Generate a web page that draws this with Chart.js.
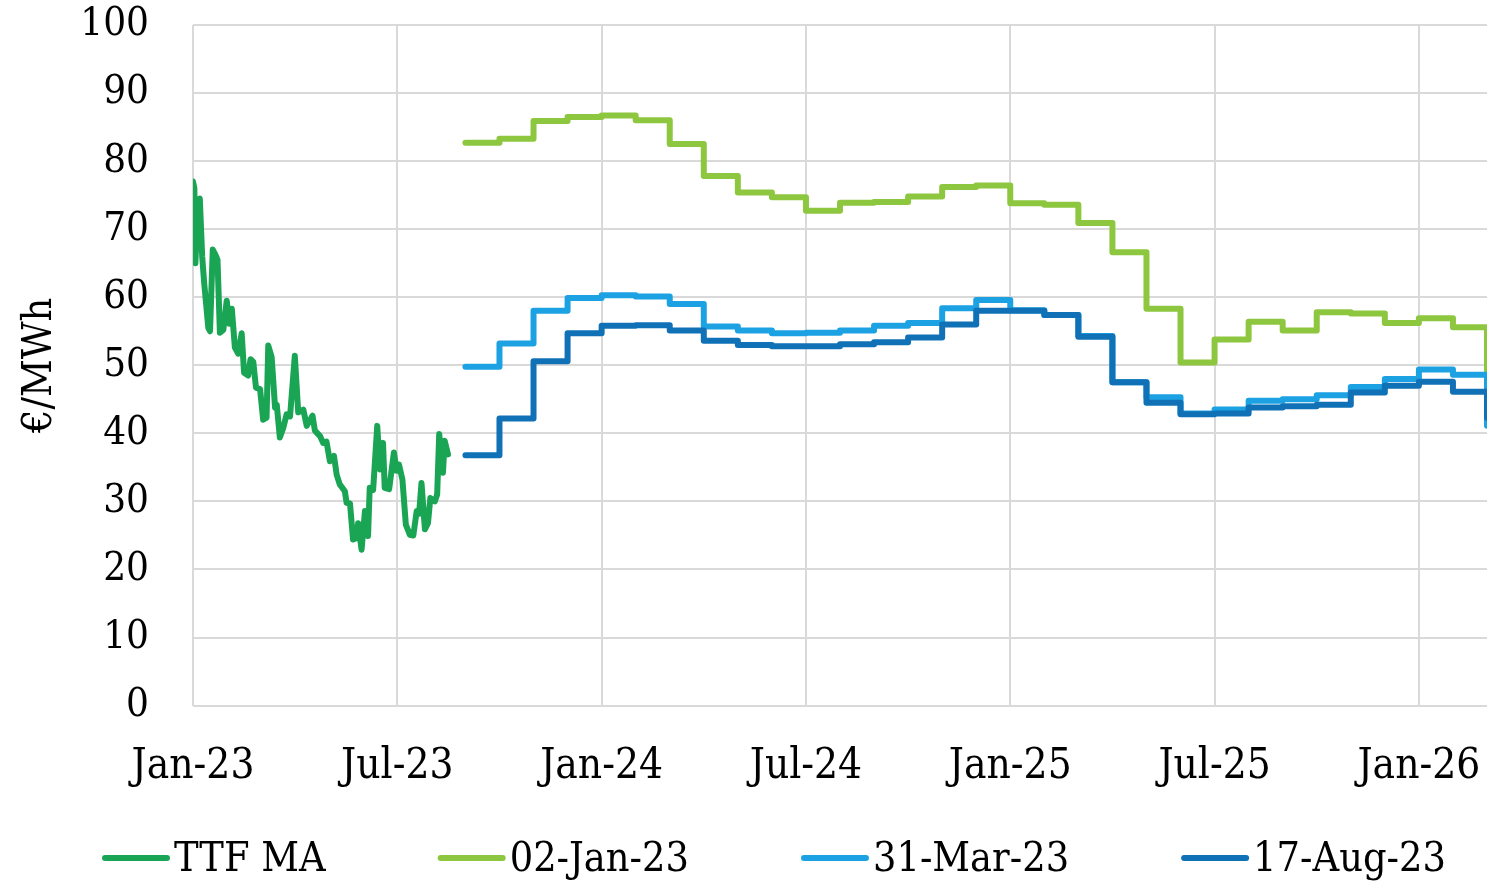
<!DOCTYPE html>
<html>
<head>
<meta charset="utf-8">
<script src="https://cdn.jsdelivr.net/npm/chart.js@4.4.0/dist/chart.umd.min.js"></script>
<style>
html, body { margin: 0; padding: 0; background: #fff; }
#wrap { width: 1508px; height: 883px; }
</style>
</head>
<body>
<div id="wrap"><canvas id="priceChart"></canvas></div>
<script>
// x is months since Jan-23
var xTicks = [0, 6, 12, 18, 24, 30, 36];
var xTickLabels = ["Jan-23", "Jul-23", "Jan-24", "Jul-24", "Jan-25", "Jul-25", "Jan-26"];

var ttfMonths = [0.00, 0.04, 0.07, 0.13, 0.20, 0.27, 0.33, 0.45, 0.50, 0.58, 0.68, 0.72, 0.79, 0.89, 0.99,
    1.07, 1.14, 1.23, 1.33, 1.43, 1.50, 1.62, 1.69, 1.77, 1.85, 1.97, 2.06, 2.16, 2.21, 2.31, 2.41, 2.46,
    2.55, 2.65, 2.75, 2.85, 2.99, 3.09, 3.24, 3.34, 3.51, 3.58, 3.73, 3.82, 3.92, 4.02, 4.14, 4.22, 4.31,
    4.46, 4.51, 4.61, 4.70, 4.80, 4.85, 4.95, 5.05, 5.14, 5.19, 5.29, 5.41, 5.49, 5.58, 5.63, 5.76, 5.90,
    5.98, 6.05, 6.15, 6.25, 6.37, 6.47, 6.57, 6.64, 6.71, 6.81, 6.90, 6.97, 7.10, 7.17, 7.23, 7.34, 7.39, 7.49];
var ttfValues = [77.0, 76.0, 65.0, 72.0, 74.5, 66.0, 62.0, 55.5, 55.0, 67.0, 66.0, 65.5, 54.8, 55.2, 59.5,
    56.1, 58.3, 52.6, 51.7, 54.7, 48.9, 48.5, 50.9, 50.5, 46.7, 46.5, 42.0, 42.3, 52.9, 51.2, 43.8, 44.2,
    39.4, 40.8, 42.8, 42.5, 51.4, 43.1, 43.5, 41.1, 42.6, 40.4, 39.6, 38.6, 38.8, 35.9, 36.7, 33.9, 32.5,
    31.5, 29.8, 29.7, 24.4, 24.6, 26.8, 22.9, 28.6, 24.9, 32.0, 31.7, 41.1, 34.7, 38.6, 32.0, 31.8, 37.2,
    34.5, 35.4, 33.2, 26.6, 25.1, 25.0, 28.6, 28.2, 32.7, 25.9, 26.8, 30.5, 30.0, 31.0, 39.9, 34.2, 38.9, 36.9];

// monthly contracts Sep-23 .. Feb-26, last entry is the end of the curve (Mar-26)
var curveMonths = [8, 9, 10, 11, 12, 13, 14, 15, 16, 17, 18, 19, 20, 21, 22, 23, 24, 25, 26, 27,
    28, 29, 30, 31, 32, 33, 34, 35, 36, 37, 38];
var curveJan23 = [82.7, 83.3, 85.9, 86.5, 86.7, 86.0, 82.5, 77.8, 75.4, 74.7, 72.7, 73.9, 74.0, 74.8, 76.2,
    76.4, 73.8, 73.6, 70.9, 66.6, 58.3, 50.4, 53.8, 56.4, 55.1, 57.8, 57.6, 56.2, 56.9, 55.6, 48.5];
var curveMar23 = [49.8, 53.2, 58.0, 59.9, 60.3, 60.1, 59.0, 55.7, 55.1, 54.7, 54.8, 55.1, 55.8, 56.2, 58.4,
    59.6, 58.1, 57.4, 54.3, 47.5, 45.3, 42.9, 43.5, 44.8, 45.0, 45.6, 46.8, 48.0, 49.4, 48.6, 41.1];
var curveAug23 = [36.8, 42.2, 50.6, 54.7, 55.8, 55.9, 55.1, 53.6, 53.0, 52.8, 52.8, 53.1, 53.4, 54.1, 56.0,
    58.0, 58.0, 57.4, 54.2, 47.5, 44.5, 42.8, 42.9, 43.8, 44.0, 44.2, 46.0, 47.0, 47.6, 46.1, 42.3];

function toPoints(xs, ys) {
    return xs.map(function (x, i) { return {x: x, y: ys[i]}; });
}

var serif = '"DejaVu Serif Condensed", "DejaVu Serif", "Liberation Serif", serif';

// legend drawn by hand so the spacing matches the original
var bottomLegend = {
    id: 'bottomLegend',
    afterDraw: function (chart) {
        var ctx = chart.ctx;
        var x = 105, y = 858;
        ctx.save();
        ctx.font = '41px ' + serif;
        ctx.textBaseline = 'middle';
        chart.data.datasets.forEach(function (ds) {
            ctx.strokeStyle = ds.borderColor;
            ctx.lineWidth = 6;
            ctx.lineCap = 'round';
            ctx.beginPath();
            ctx.moveTo(x, y);
            ctx.lineTo(x + 62, y);
            ctx.stroke();
            ctx.fillStyle = '#000';
            ctx.fillText(ds.label, x + 69, y + 2);
            x += 69 + ctx.measureText(ds.label).width + 115;
        });
        ctx.restore();
    }
};

var priceChart = new Chart(document.getElementById("priceChart"), {
    type: "line",
    data: {
        datasets: [{
            label: "TTF MA",
            data: toPoints(ttfMonths, ttfValues),
            borderColor: "#1aa555",
            borderWidth: 6,
            order: 3
        }, {
            label: "02-Jan-23",
            data: toPoints(curveMonths, curveJan23),
            borderColor: "#8dc63f",
            borderWidth: 6,
            stepped: true,
            order: 2
        }, {
            label: "31-Mar-23",
            data: toPoints(curveMonths, curveMar23),
            borderColor: "#1ca2e3",
            borderWidth: 6,
            stepped: true,
            order: 1
        }, {
            label: "17-Aug-23",
            data: toPoints(curveMonths, curveAug23),
            borderColor: "#1171b6",
            borderWidth: 6,
            stepped: true,
            order: 0
        }]
    },
    options: {
        responsive: true,
        maintainAspectRatio: false,
        animation: false,
        layout: {padding: {top: 25, right: 21, bottom: 91, left: 0}},
        elements: {
            point: {radius: 0},
            line: {tension: 0, borderJoinStyle: 'round', borderCapStyle: 'round'}
        },
        plugins: {
            legend: {display: false},
            tooltip: {enabled: false}
        },
        scales: {
            x: {
                type: "linear",
                min: 0,
                max: 38,
                afterBuildTicks: function (scale) {
                    scale.ticks = xTicks.map(function (v) { return {value: v}; });
                },
                ticks: {
                    autoSkip: false,
                    maxRotation: 0,
                    padding: 0,
                    color: "#000",
                    font: {family: serif, size: 42},
                    callback: function (value) {
                        var i = xTicks.indexOf(value);
                        return i >= 0 ? xTickLabels[i] : "";
                    }
                },
                grid: {color: "#d9d9d9", lineWidth: 2, tickLength: 36, tickColor: "rgba(0,0,0,0)"},
                border: {display: false}
            },
            y: {
                min: 0,
                max: 100,
                afterFit: function (scale) { scale.width = 193; },
                ticks: {
                    stepSize: 10,
                    padding: 0,
                    color: "#000",
                    font: {family: serif, size: 40}
                },
                grid: {color: "#d9d9d9", lineWidth: 2, tickLength: 44, tickColor: "rgba(0,0,0,0)"},
                border: {display: false},
                title: {
                    display: true,
                    text: "€/MWh",
                    color: "#000",
                    padding: {top: 16, bottom: 0},
                    font: {family: serif, size: 41}
                }
            }
        }
    },
    plugins: [bottomLegend]
});
</script>
</body>
</html>
